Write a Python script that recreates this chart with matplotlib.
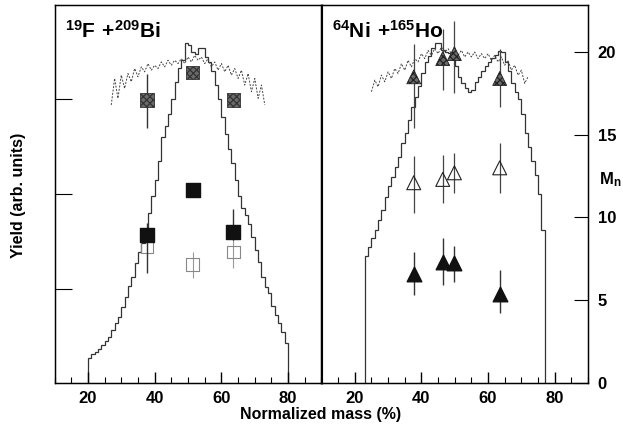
import matplotlib.pyplot as plt
import numpy as np
from matplotlib.ticker import MultipleLocator
import matplotlib

matplotlib.use('Agg')

plt.rcParams['font.family'] = ['Liberation Sans', 'DejaVu Sans']
plt.rcParams['font.weight'] = 'bold'
plt.rcParams['mathtext.fontset'] = 'custom'
plt.rcParams['mathtext.rm'] = 'Liberation Sans:bold'
plt.rcParams['mathtext.bf'] = 'Liberation Sans:bold'
plt.rcParams['hatch.color'] = 'black'
plt.rcParams['hatch.linewidth'] = 0.9

# ---- mass yield histograms (1% bins), arb. units ----
fbi_start = 20
fbi_yield = [0.26, 0.31, 0.33, 0.36, 0.40, 0.44, 0.49, 0.56, 0.63, 0.70,
             0.80, 0.91, 1.03, 1.12, 1.27, 1.39, 1.48, 1.62, 1.80, 1.98,
             2.15, 2.35, 2.60, 2.72, 2.85, 3.00, 3.18, 3.33, 3.42, 3.60,
             3.58, 3.50, 3.48, 3.55, 3.55, 3.45, 3.40, 3.30, 3.15, 3.00,
             2.82, 2.64, 2.48, 2.33, 2.15, 1.98, 1.85, 1.78, 1.68, 1.55,
             1.41, 1.28, 1.12, 1.02, 0.95, 0.81, 0.72, 0.63, 0.54, 0.42]

niho_start = 23
niho_yield = [1.34, 1.44, 1.53, 1.62, 1.72, 1.83, 1.97, 2.08, 2.18, 2.29,
              2.39, 2.54, 2.65, 2.78, 2.92, 3.03, 3.14, 3.28, 3.40, 3.46,
              3.55, 3.60, 3.60, 3.52, 3.50, 3.49, 3.45, 3.35, 3.24, 3.17,
              3.12, 3.08, 3.10, 3.18, 3.24, 3.30, 3.35, 3.40, 3.44, 3.47,
              3.51, 3.50, 3.40, 3.30, 3.17, 3.08, 3.00, 2.85, 2.65, 2.50,
              2.35, 2.20, 2.00, 1.62]

# ---- neutron multiplicity vs mass (dashed curves) ----
fbi_curve_x = list(range(27, 74))
fbi_curve_m = [16.8, 18.4, 17.2, 18.6, 17.8, 18.7, 18.2, 19.0, 18.5, 19.1,
               18.8, 19.3, 18.9, 19.2, 19.0, 19.4, 19.1, 19.5, 19.2, 19.5,
               19.3, 19.6, 19.3, 19.7, 19.4, 19.8, 19.5, 19.7, 19.3, 19.6,
               19.1, 19.4, 18.9, 19.3, 18.8, 19.2, 18.6, 19.0, 18.4, 18.9,
               18.0, 18.7, 17.6, 18.4, 17.2, 18.0, 16.8]

niho_curve_x = list(range(25, 73))
niho_curve_m = [17.6, 18.3, 17.9, 18.6, 18.2, 18.8, 18.4, 19.0, 18.7, 19.3,
                18.9, 19.5, 19.1, 19.6, 19.4, 19.9, 19.6, 20.1, 19.8, 20.2,
                19.9, 20.3, 20.0, 20.2, 19.9, 20.1, 19.8, 20.1, 19.7, 20.0,
                19.7, 20.0, 19.6, 19.9, 19.6, 19.9, 19.5, 19.8, 19.4, 19.7,
                19.2, 19.5, 18.9, 19.2, 18.6, 18.9, 18.1, 18.5]

# ---- data points (M_n) ----
fbi_x = [37.7, 51.4, 63.6]
fbi_hatched = [17.1, 18.75, 17.1]
fbi_hatched_lo = [1.7, 0.3, 0.3]
fbi_hatched_hi = [1.6, 0.3, 0.3]
fbi_black = [8.94, 11.66, 9.14]
fbi_black_lo = [2.3, 0.4, 0.5]
fbi_black_hi = [0.7, 0.4, 1.4]
fbi_open = [8.24, 7.17, 7.93]
fbi_open_lo = [0.5, 0.84, 1.0]
fbi_open_hi = [0.5, 0.76, 1.1]

niho_x = [37.7, 46.4, 49.9, 63.5]
niho_hatched = [18.5, 19.6, 19.9, 18.4]
niho_hatched_lo = [3.1, 1.9, 2.4, 1.7]
niho_hatched_hi = [2.0, 1.8, 2.0, 1.8]
niho_open = [12.1, 12.3, 12.7, 13.0]
niho_open_lo = [1.8, 1.4, 1.2, 1.5]
niho_open_hi = [1.6, 1.5, 1.2, 1.5]
niho_black = [6.6, 7.3, 7.25, 5.4]
niho_black_lo = [1.3, 1.4, 1.15, 1.2]
niho_black_hi = [1.3, 1.46, 1.05, 1.4]

fig = plt.figure(figsize=(6.23, 4.34), dpi=100)
ax1 = fig.add_axes([0.0875, 0.1175, 0.4286, 0.871])
ax2 = fig.add_axes([0.516, 0.1175, 0.4278, 0.871])

hist_col = '#333333'
ax1.stairs(fbi_yield, np.arange(fbi_start, fbi_start + len(fbi_yield) + 1),
           baseline=0, color=hist_col, lw=0.9)
ax2.stairs(niho_yield, np.arange(niho_start, niho_start + len(niho_yield) + 1),
           baseline=0, color=hist_col, lw=0.9)

for ax in (ax1, ax2):
    ax.set_xlim(10, 90)
    ax.set_ylim(0, 4)
    ax.xaxis.set_major_locator(MultipleLocator(20))
    ax.xaxis.set_minor_locator(MultipleLocator(5))
    ax.tick_params(axis='x', which='major', direction='in', length=8, width=1,
                   labelsize=12, pad=6)
    ax.tick_params(axis='x', which='minor', direction='in', length=4, width=0.8)
    ax.set_xticks([20, 40, 60, 80])
    for s in ax.spines.values():
        s.set_linewidth(1.0)

ax1.set_yticks([1, 2, 3])
ax1.tick_params(axis='y', direction='in', length=12, labelleft=False)
ax2.set_yticks([])

ax1m = ax1.twinx()
ax2m = ax2.twinx()
for axm in (ax1m, ax2m):
    axm.set_ylim(0, 22.84)
    axm.set_xlim(10, 90)
ax1m.set_yticks([])
ax2m.set_yticks([0, 5, 10, 15, 20])
ax2m.tick_params(axis='y', direction='in', length=10, labelsize=12, pad=7)

# dashed multiplicity curves
ax1m.plot(fbi_curve_x, fbi_curve_m, color='#444444', lw=0.7, ls=(0, (2, 1.5)))
ax2m.plot(niho_curve_x, niho_curve_m, color='#444444', lw=0.7, ls=(0, (2, 1.5)))

# F + Bi squares
ax1m.errorbar(fbi_x, fbi_open, yerr=[fbi_open_lo, fbi_open_hi], fmt='none',
              ecolor='#999999', elinewidth=0.8, zorder=2)
ax1m.scatter(fbi_x, fbi_open, marker='s', s=80, facecolor='none',
             edgecolor='#888888', linewidth=0.8, zorder=3)
ax1m.errorbar(fbi_x, fbi_black, yerr=[fbi_black_lo, fbi_black_hi], fmt='none',
              ecolor='#333333', elinewidth=1.0, zorder=4)
ax1m.scatter(fbi_x, fbi_black, marker='s', s=90, color='#111111', zorder=5)
ax1m.errorbar(fbi_x, fbi_hatched, yerr=[fbi_hatched_lo, fbi_hatched_hi],
              fmt='none', ecolor='#333333', elinewidth=1.0, zorder=4)
ax1m.scatter(fbi_x, fbi_hatched, marker='s', s=90, facecolor='#6a6a6a',
             edgecolor='#333333', hatch='xxxxx', linewidth=0.6, zorder=5)

# Ni + Ho triangles
ax2m.errorbar(niho_x, niho_open, yerr=[niho_open_lo, niho_open_hi], fmt='none',
              ecolor='#444444', elinewidth=0.9, zorder=2)
ax2m.scatter(niho_x, niho_open, marker='^', s=100, facecolor='none',
             edgecolor='#222222', linewidth=0.8, zorder=3)
ax2m.errorbar(niho_x, niho_black, yerr=[niho_black_lo, niho_black_hi], fmt='none',
              ecolor='#333333', elinewidth=1.0, zorder=4)
ax2m.scatter(niho_x, niho_black, marker='^', s=110, color='#111111', zorder=5)
ax2m.errorbar(niho_x, niho_hatched, yerr=[niho_hatched_lo, niho_hatched_hi],
              fmt='none', ecolor='#444444', elinewidth=0.9, zorder=4)
ax2m.scatter(niho_x, niho_hatched, marker='^', s=100, facecolor='#6a6a6a',
             edgecolor='#222222', hatch='xxxxx', linewidth=0.6, zorder=5)

ax1.text(0.04, 0.96, r'$\mathbf{^{19}F\ {+}^{209}Bi}$', transform=ax1.transAxes,
         fontsize=15, va='top', ha='left')
ax2.text(0.04, 0.96, r'$\mathbf{^{64}Ni\ {+}^{165}Ho}$', transform=ax2.transAxes,
         fontsize=15, va='top', ha='left')

fig.text(0.03, 0.55, 'Yield (arb. units)', rotation=90, ha='center', va='center',
         fontsize=11.5, fontweight='bold')
fig.text(0.514, 0.045, 'Normalized mass (%)', ha='center', va='center',
         fontsize=11.5, fontweight='bold')
fig.text(0.962, 0.585, r'$\mathbf{M_n}$', ha='left', va='center', fontsize=12)

fig.savefig('out.png', dpi=100)
